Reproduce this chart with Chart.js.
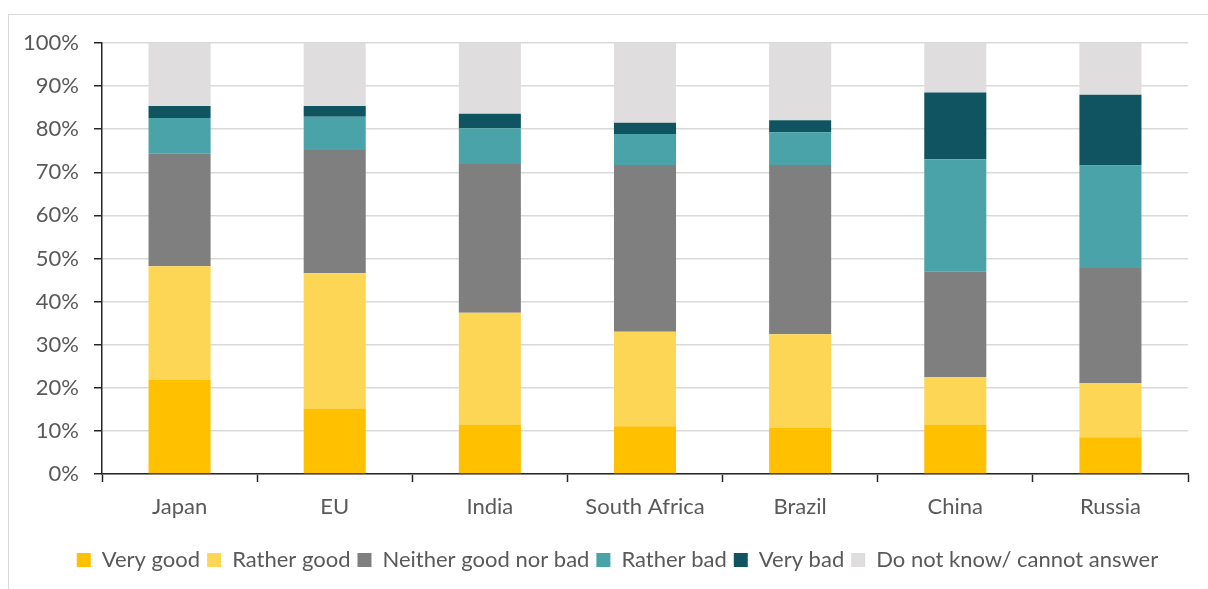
<!DOCTYPE html>
<html lang="en">
<head>
    <meta charset="UTF-8">
    <title>Assessment by country</title>
    <script src="https://cdn.jsdelivr.net/npm/chart.js"></script>
    <style>
        html, body { margin: 0; padding: 0; background: #fff; overflow: hidden; }
        .frame { position: absolute; left: 8px; top: 14px; width: 1230px; height: 620px; border: 1.5px solid #d9d9d9; }
        canvas { position: absolute; left: 0; top: 0; }
    </style>
</head>
<body>
    <div class="frame"></div>
    <canvas id="surveyChart" width="1208" height="589"></canvas>
    <script>
        const countries = ['Japan', 'EU', 'India', 'South Africa', 'Brazil', 'China', 'Russia'];
        const veryGood    = [21.9, 15.2, 11.5, 11.1, 10.8, 11.5, 8.5];
        const ratherGood  = [26.3, 31.4, 25.9, 21.9, 21.6, 11.0, 12.6];
        const neither     = [26.1, 28.6, 34.5, 38.7, 39.3, 24.4, 26.7];
        const ratherBad   = [8.3, 7.7, 8.3, 7.2, 7.6, 26.1, 23.8];
        const veryBad     = [2.8, 2.5, 3.4, 2.6, 2.8, 15.5, 16.4];
        const dontKnow    = [14.6, 14.6, 16.4, 18.5, 17.9, 11.5, 12.0];

        const font = { family: 'Lato, "Open Sans", sans-serif', size: 22 };
        const textColor = '#595959';

        function series(label, data, color) {
            return { label: label, data: data, backgroundColor: color, borderWidth: 0,
                     barPercentage: 0.4, categoryPercentage: 1.0 };
        }

        // legend in the original sits a bit right of the canvas centre
        const shiftLegend = {
            id: 'shiftLegend',
            afterLayout(chart) {
                chart.legend.left += 47;
            }
        };

        const ctx = document.getElementById('surveyChart').getContext('2d');
        new Chart(ctx, {
            type: 'bar',
            data: {
                labels: countries,
                datasets: [
                    series('Very good', veryGood, '#FFC000'),
                    series('Rather good', ratherGood, '#FDD655'),
                    series('Neither good nor bad', neither, '#7F7F7F'),
                    series('Rather bad', ratherBad, '#4AA3A8'),
                    series('Very bad', veryBad, '#115461'),
                    series('Do not know/ cannot answer', dontKnow, '#DFDDDE')
                ]
            },
            options: {
                responsive: false,
                animation: false,
                layout: { padding: { top: 43, right: 20, bottom: 8, left: 0 } },
                scales: {
                    x: {
                        stacked: true,
                        border: { color: '#262626', width: 1.5 },
                        grid: { drawOnChartArea: false, offset: true, tickLength: 8, tickColor: '#262626', tickWidth: 1.5 },
                        ticks: { color: textColor, font: font, padding: 12 },
                        afterFit: (s) => { s.height = 68; }
                    },
                    y: {
                        stacked: true,
                        min: 0,
                        max: 100,
                        border: { color: '#262626', width: 1.5 },
                        grid: { color: '#d9d9d9', lineWidth: 1.5, tickLength: 8, tickColor: '#262626', tickWidth: 1.5 },
                        ticks: { stepSize: 10, color: textColor, font: font, padding: 15,
                                 callback: (v) => v + '%' },
                        afterFit: (s) => { s.width = 102; }
                    }
                },
                plugins: {
                    legend: {
                        position: 'bottom',
                        labels: { color: textColor, font: font, boxWidth: 14, boxHeight: 14, padding: 7 }
                    },
                    tooltip: { enabled: false }
                }
            },
            plugins: [shiftLegend]
        });
    </script>
</body>
</html>
